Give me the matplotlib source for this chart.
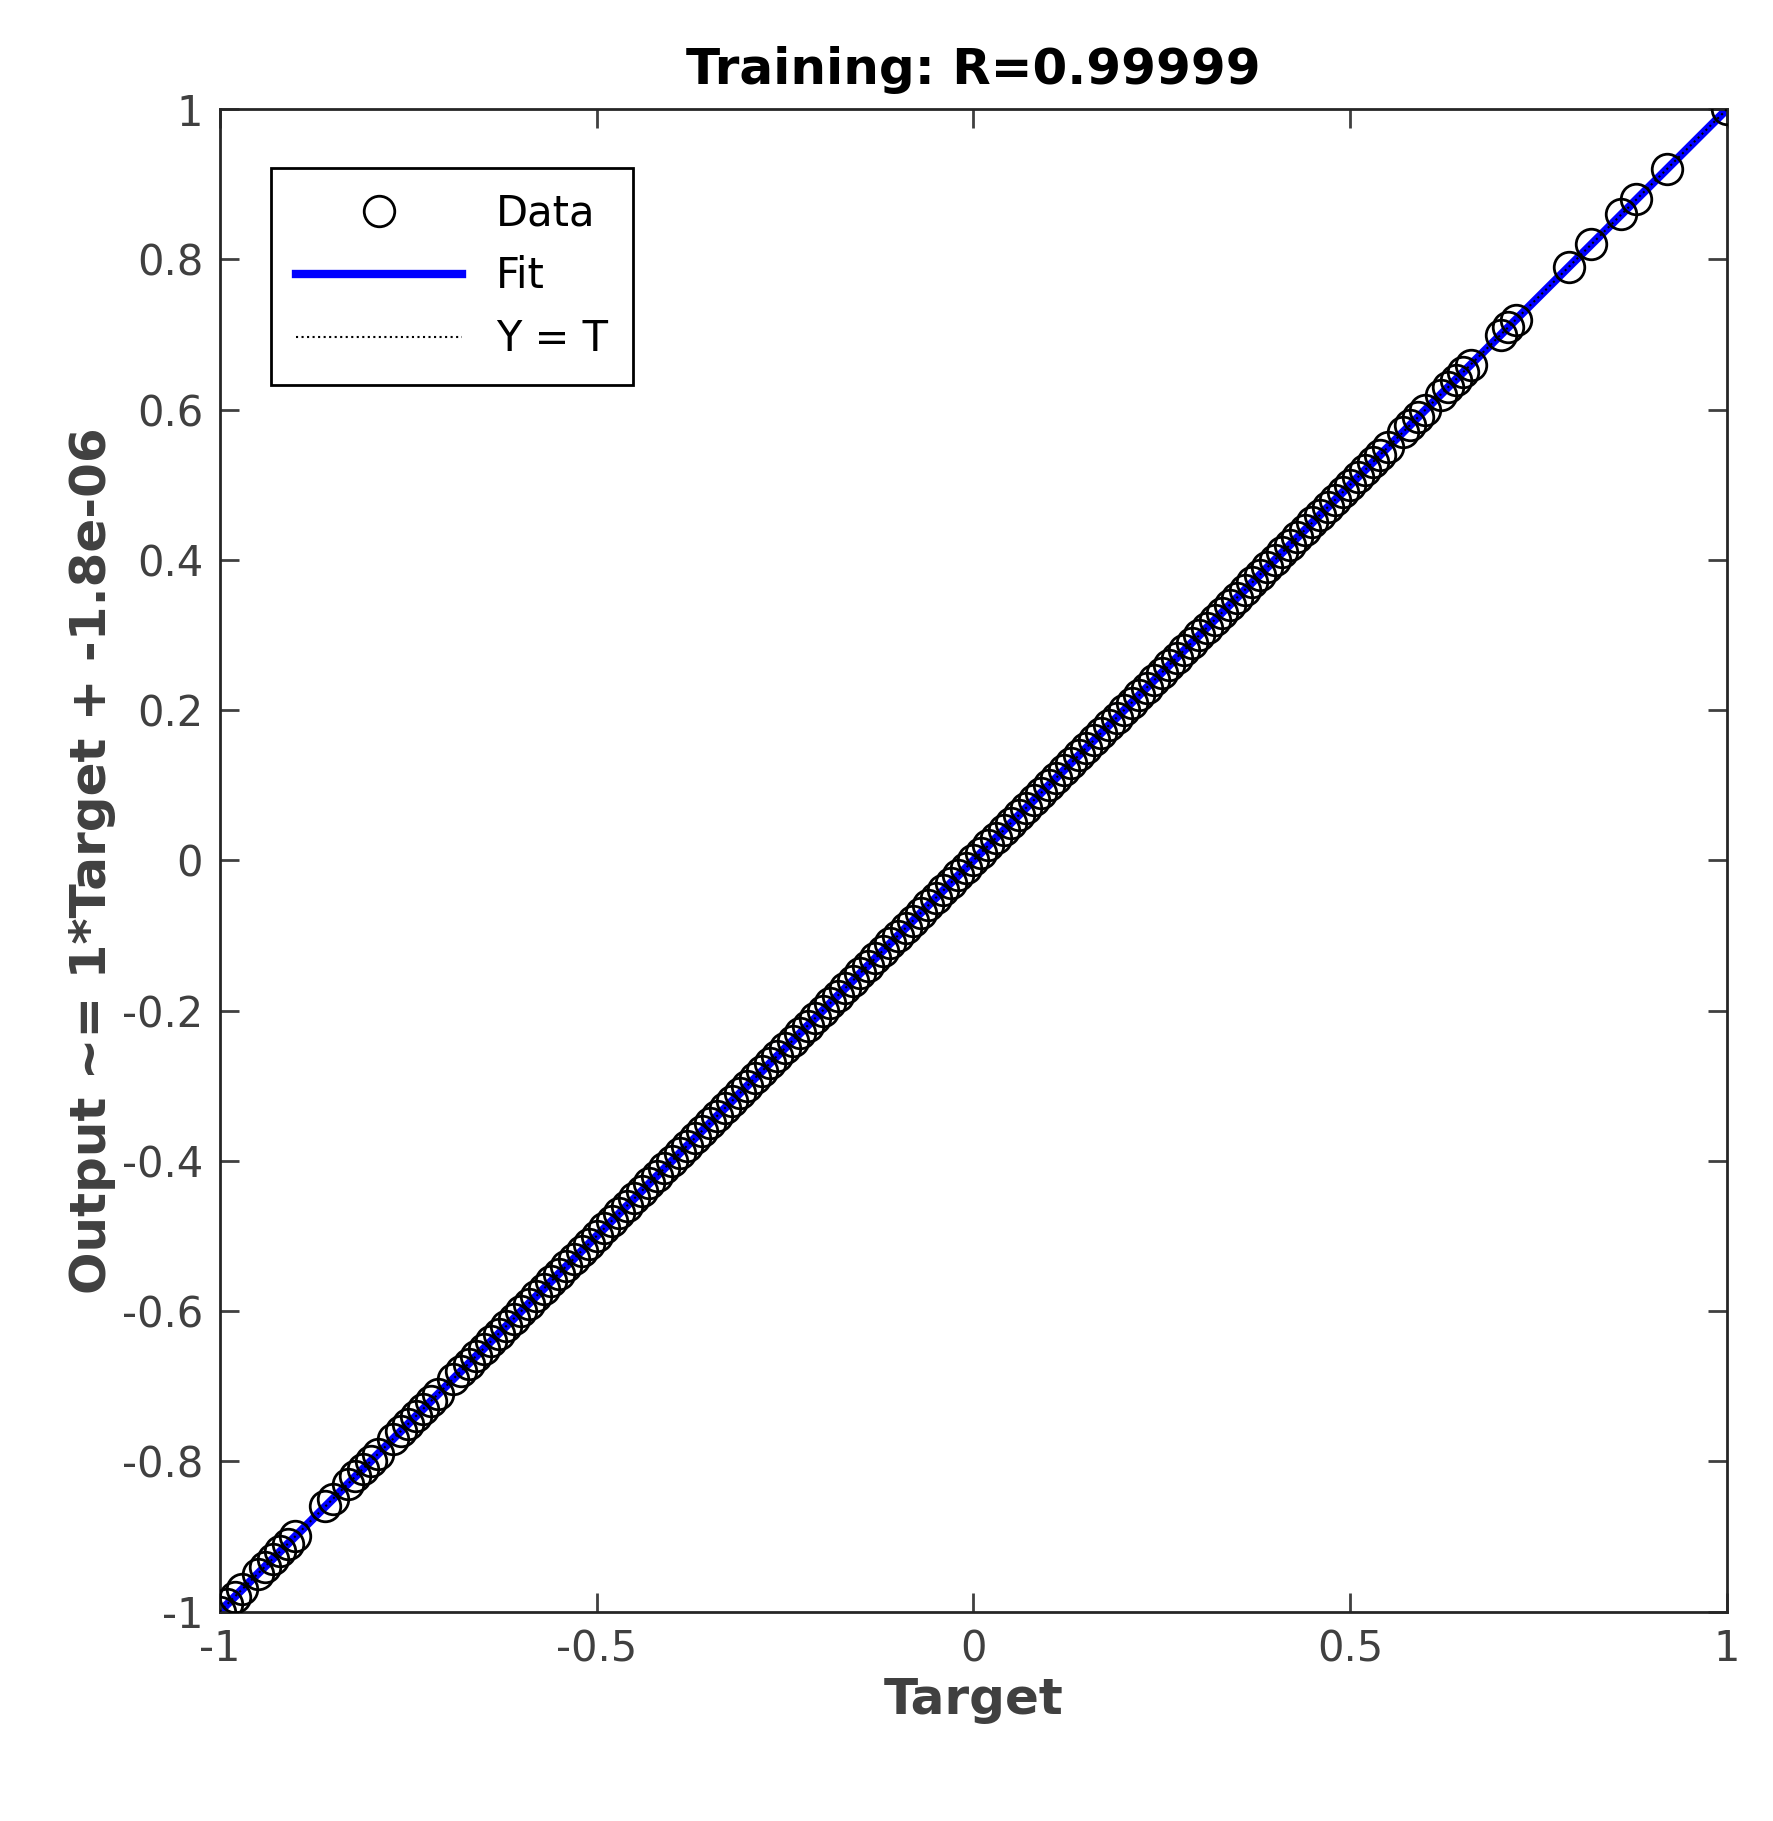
import matplotlib.pyplot as plt

# targets (points lie on Y = T)
targets = [-1.0, -0.99, -0.98, -0.97, -0.95, -0.94, -0.93, -0.92, -0.91, -0.9,
           -0.86, -0.85, -0.83, -0.82, -0.81, -0.8, -0.79, -0.77, -0.76, -0.75,
           -0.74, -0.73, -0.72, -0.71, -0.69, -0.68, -0.67, -0.66, -0.65, -0.64,
           -0.63, -0.62, -0.61, -0.6, -0.59, -0.58, -0.57, -0.56, -0.55, -0.54,
           -0.53, -0.52, -0.51, -0.5, -0.49, -0.48, -0.47, -0.46, -0.45, -0.44,
           -0.43, -0.42, -0.41, -0.4, -0.39, -0.38, -0.37, -0.36, -0.35, -0.34,
           -0.33, -0.32, -0.31, -0.3, -0.29, -0.28, -0.27, -0.26, -0.25, -0.24,
           -0.23, -0.22, -0.21, -0.2, -0.19, -0.18, -0.17, -0.16, -0.15, -0.14,
           -0.13, -0.12, -0.11, -0.1, -0.09, -0.08, -0.07, -0.06, -0.05, -0.04,
           -0.03, -0.02, -0.01, 0.0, 0.01, 0.02, 0.03, 0.04, 0.05, 0.06, 0.07,
           0.08, 0.09, 0.1, 0.11, 0.12, 0.13, 0.14, 0.15, 0.16, 0.17, 0.18, 0.19,
           0.2, 0.21, 0.22, 0.23, 0.24, 0.25, 0.26, 0.27, 0.28, 0.29, 0.3, 0.31,
           0.32, 0.33, 0.34, 0.35, 0.36, 0.37, 0.38, 0.39, 0.4, 0.41, 0.42, 0.43,
           0.44, 0.45, 0.46, 0.47, 0.48, 0.49, 0.5, 0.51, 0.52, 0.53, 0.54, 0.55,
           0.57, 0.58, 0.59, 0.6, 0.62, 0.63, 0.64, 0.65, 0.66, 0.7, 0.71, 0.72,
           0.79, 0.82, 0.86, 0.88, 0.92, 1.0]
outputs = list(targets)
fit_x = [-1, 1]
fit_y = [-1, 1]

fig = plt.figure(figsize=(17.73, 18.21), dpi=100)
ax = fig.add_axes([0.124, 0.115, 0.85, 0.825])
plt.rcParams['font.family'] = 'Arial'

ax.plot(targets, outputs, 'o', mfc='none', mec='black', ms=22, mew=2, label='Data', zorder=3)
ax.plot(fit_x, fit_y, color='blue', lw=6, label='Fit', zorder=2)
ax.plot(fit_x, fit_y, 'k:', lw=1.5, label='Y = T', zorder=4)

ax.set_xlim(-1, 1)
ax.set_ylim(-1, 1)
ax.set_xticks([-1, -0.5, 0, 0.5, 1])
ax.set_xticklabels(['-1', '-0.5', '0', '0.5', '1'])
ax.set_yticks([-1, -0.8, -0.6, -0.4, -0.2, 0, 0.2, 0.4, 0.6, 0.8, 1])
ax.set_yticklabels(['-1', '-0.8', '-0.6', '-0.4', '-0.2', '0', '0.2', '0.4', '0.6', '0.8', '1'])
ax.tick_params(labelsize=30, colors='#404040', direction='in', length=14, width=2,
               top=True, right=True, pad=12)
for s in ax.spines.values():
    s.set_linewidth(2)
    s.set_color('#262626')

ax.set_title('Training: R=0.99999', fontsize=36, fontweight='bold', pad=18)
ax.set_xlabel('Target', fontsize=36, fontweight='bold', color='#404040')
ax.set_ylabel('Output ~= 1*Target + -1.8e-06', fontsize=36, fontweight='bold', color='#404040')

leg = ax.legend(loc='upper left', fontsize=30, fancybox=False, edgecolor='black',
                framealpha=1, handlelength=4, borderpad=0.6, bbox_to_anchor=(0.02, 0.975))
leg.get_frame().set_linewidth(2)

fig.savefig('out.png')
